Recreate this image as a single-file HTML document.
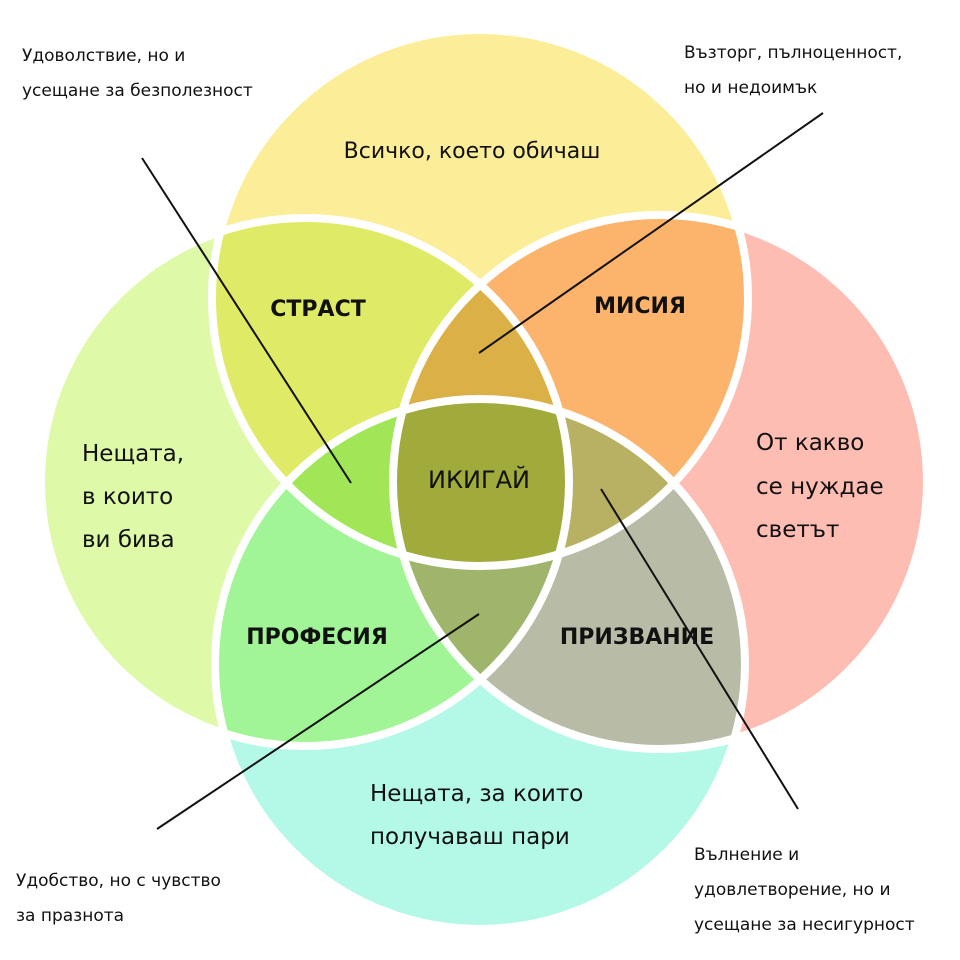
<!DOCTYPE html>
<html><head><meta charset="utf-8"><style>
html,body{margin:0;padding:0;background:#fff;width:960px;height:960px;overflow:hidden}
text{font-family:"DejaVu Sans","Liberation Sans",sans-serif;fill:#111}
</style></head><body>
<svg width="960" height="960" viewBox="0 0 960 960" xmlns="http://www.w3.org/2000/svg">
<defs>
<clipPath id="T"><circle cx="480" cy="298" r="268"/></clipPath>
<clipPath id="L"><circle cx="305" cy="482" r="264"/></clipPath>
<clipPath id="R"><circle cx="660" cy="482" r="267"/></clipPath>
<clipPath id="B"><circle cx="480" cy="664" r="265"/></clipPath>
</defs>
<rect width="960" height="960" fill="#fff"/>
<circle cx="480" cy="298" r="268" fill="#fcee98"/>
<circle cx="305" cy="482" r="264" fill="#def9a8"/>
<circle cx="660" cy="482" r="267" fill="#febdb3"/>
<circle cx="480" cy="664" r="265" fill="#b4f9e7"/>
<g clip-path="url(#T)"><rect width="960" height="960" fill="#dfea66" clip-path="url(#L)"/></g>
<g clip-path="url(#T)"><rect width="960" height="960" fill="#fcb36c" clip-path="url(#R)"/></g>
<g clip-path="url(#B)"><rect width="960" height="960" fill="#a1f597" clip-path="url(#L)"/></g>
<g clip-path="url(#B)"><rect width="960" height="960" fill="#b8bca6" clip-path="url(#R)"/></g>
<g clip-path="url(#T)"><g clip-path="url(#L)"><rect width="960" height="960" fill="#dbb147" clip-path="url(#R)"/></g></g>
<g clip-path="url(#T)"><g clip-path="url(#L)"><rect width="960" height="960" fill="#a0e656" clip-path="url(#B)"/></g></g>
<g clip-path="url(#T)"><g clip-path="url(#R)"><rect width="960" height="960" fill="#b8b062" clip-path="url(#B)"/></g></g>
<g clip-path="url(#B)"><g clip-path="url(#L)"><rect width="960" height="960" fill="#a0b56c" clip-path="url(#R)"/></g></g>
<g clip-path="url(#T)"><g clip-path="url(#L)"><g clip-path="url(#R)"><rect width="960" height="960" fill="#a0ab3c" clip-path="url(#B)"/></g></g></g>
<g fill="none" stroke="#fff" stroke-width="8">
<circle cx="480" cy="298" r="268"/>
<circle cx="305" cy="482" r="264"/>
<circle cx="660" cy="482" r="267"/>
<circle cx="480" cy="664" r="265"/>
</g>
<g stroke="#111" stroke-width="2">
<line x1="142" y1="158" x2="351" y2="483"/>
<line x1="823" y1="113" x2="479" y2="353"/>
<line x1="601" y1="489" x2="798" y2="809"/>
<line x1="479" y1="614" x2="157" y2="829"/>
</g>
<g font-size="22" font-weight="bold">
<text x="472" y="158" text-anchor="middle" font-weight="normal">Всичко, което обичаш</text>
<text x="318" y="316" text-anchor="middle">СТРАСТ</text>
<text x="640" y="313" text-anchor="middle">МИСИЯ</text>
<text x="479" y="488" text-anchor="middle" font-size="24" font-weight="normal">ИКИГАЙ</text>
<text x="317" y="644" text-anchor="middle">ПРОФЕСИЯ</text>
<text x="637" y="644" text-anchor="middle">ПРИЗВАНИЕ</text>
</g>
<g font-size="23">
<text x="82" y="461">Нещата,</text>
<text x="82" y="504">в които</text>
<text x="82" y="547">ви бива</text>
<text x="756" y="450">От какво</text>
<text x="756" y="494">се нуждае</text>
<text x="756" y="537">светът</text>
<text x="370" y="801">Нещата, за които</text>
<text x="370" y="844">получаваш пари</text>
</g>
<g font-size="17">
<text x="22" y="61">Удоволствие, но и</text>
<text x="22" y="96">усещане за безполезност</text>
<text x="684" y="58">Възторг, пълноценност,</text>
<text x="684" y="93">но и недоимък</text>
<text x="16" y="886">Удобство, но с чувство</text>
<text x="16" y="921">за празнота</text>
<text x="694" y="860">Вълнение и</text>
<text x="694" y="895">удовлетворение, но и</text>
<text x="694" y="930">усещане за несигурност</text>
</g>
</svg>
</body></html>
